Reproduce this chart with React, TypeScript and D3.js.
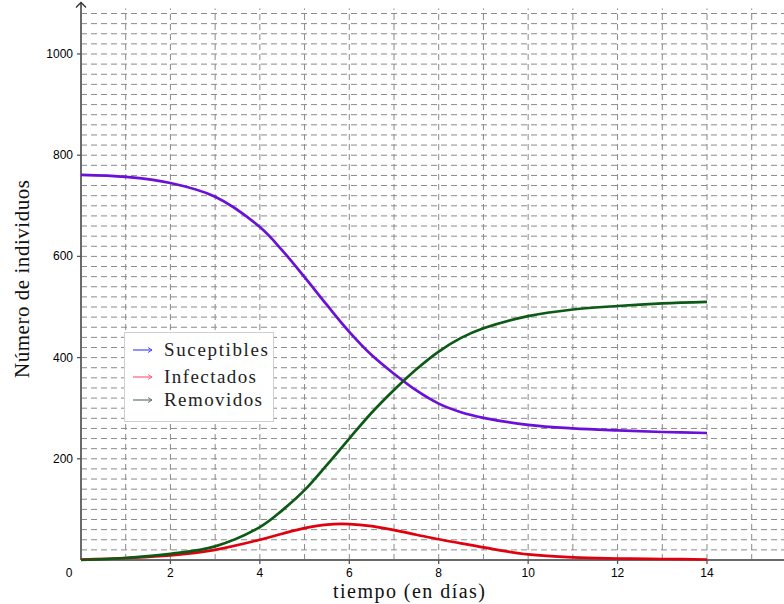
import React from "react";
import * as d3 from "d3";

const tDays = [0, 1, 2, 3, 4, 4.5, 5, 5.5, 6, 6.5, 7, 7.5, 8, 8.5, 9, 10, 11, 12, 13, 14];
const susceptibles = [761, 757, 745, 718, 658, 612, 559, 504, 451, 405, 368, 335, 309, 292, 281, 267, 260, 256, 253, 251];
const infectados = [1, 4, 9, 20, 40, 52, 63, 70, 71, 67, 59, 50, 41, 33, 25, 11, 5, 3, 2, 1];
const removidos = [0, 4, 12, 27, 65, 98, 138, 188, 240, 291, 336, 377, 412, 439, 458, 482, 495, 502, 507, 510];

const xTickLabels = [2, 4, 6, 8, 10, 12, 14];
const yTickLabels = [200, 400, 600, 800, 1000];
const legendLabels = ["Suceptibles", "Infectados", "Removidos"];

const W = 784;
const H = 604;

export default function App() {
  const x = d3.scaleLinear().domain([0, 14]).range([81, 707]);
  const y = d3.scaleLinear().domain([0, 1000]).range([560, 54]);
  const xMax = x.invert(W);
  const vGrid = d3.range(1, Math.floor(xMax) + 1);
  const hGrid = d3.range(20, 1090, 20);
  const topY = y(1090);

  const series = [
    { vals: susceptibles, color: "#6a10d8", legend: "#4a4aff" },
    { vals: infectados, color: "#e0000e", legend: "#ff5f85" },
    { vals: removidos, color: "#0c5a16", legend: "#5f7a5f" },
  ];
  const line = (vals: number[]) =>
    d3
      .line<number>()
      .x((_, i) => x(tDays[i]))
      .y((d) => y(d))
      .curve(d3.curveCatmullRom.alpha(0.5))(vals) || "";

  const serif = "'Liberation Serif', 'DejaVu Serif', serif";
  const sans = "'Liberation Sans', Arial, sans-serif";
  const legendWidths = [104, 92, 98];

  return (
    <svg width={W} height={H} style={{ position: "absolute", left: 0, top: 0, background: "#fff" }}>
      <g stroke="#8a8a8a" strokeWidth={1} strokeDasharray="6,4">
        {hGrid.map((v) => (
          <line key={"h" + v} x1={x(0)} x2={W} y1={y(v)} y2={y(v)} />
        ))}
        {vGrid.map((v) => (
          <line key={"v" + v} x1={x(v)} x2={x(v)} y1={y(0)} y2={topY} />
        ))}
      </g>
      {/* axes */}
      <line x1={x(0)} x2={W} y1={y(0)} y2={y(0)} stroke="#6a6a6a" strokeWidth={2} />
      <line x1={x(0)} x2={x(0)} y1={y(0)} y2={topY - 6} stroke="#6a6a6a" strokeWidth={2} />
      <path
        d={`M${x(0) - 5},${topY - 1} L${x(0)},${topY - 6} L${x(0) + 5},${topY - 1}`}
        fill="none"
        stroke="#333"
        strokeWidth={1.3}
      />
      {xTickLabels.map((v) => (
        <g key={"xt" + v}>
          <line x1={x(v)} x2={x(v)} y1={y(0)} y2={y(0) + 4} stroke="#555" strokeWidth={1.3} />
          <text x={x(v)} y={y(0) + 17} textAnchor="middle" fontFamily={sans} fontSize={12} fill="#000">
            {v}
          </text>
        </g>
      ))}
      <text x={69} y={y(0) + 17} textAnchor="middle" fontFamily={sans} fontSize={12} fill="#000">
        0
      </text>
      {yTickLabels.map((v) => (
        <g key={"yt" + v}>
          <line x1={x(0) - 4} x2={x(0)} y1={y(v)} y2={y(v)} stroke="#555" strokeWidth={1.3} />
          <text x={x(0) - 8} y={y(v) + 4} textAnchor="end" fontFamily={sans} fontSize={12} fill="#000">
            {v}
          </text>
        </g>
      ))}
      {/* curves */}
      {series.map((s, i) => (
        <path key={"s" + i} d={line(s.vals)} fill="none" stroke={s.color} strokeWidth={2.7} />
      ))}
      {/* legend */}
      <rect x={124.5} y={332.5} width={149} height={89} fill="#fff" stroke="#cfcfcf" strokeWidth={1} />
      {legendLabels.map((lab, i) => {
        const cy = [350, 377, 400][i];
        const base = [356, 383, 406][i];
        const c = series[i].legend;
        return (
          <g key={"lg" + i}>
            <line x1={133} x2={152} y1={cy} y2={cy} stroke={c} strokeWidth={1.2} />
            <path d={`M148,${cy - 2.5} L152,${cy} L148,${cy + 2.5}`} fill="none" stroke={c} strokeWidth={1} />
            <text
              x={164}
              y={base}
              fontFamily={serif}
              fontSize={19}
              fill="#222"
              textLength={legendWidths[i]}
              lengthAdjust="spacing"
            >
              {lab}
            </text>
          </g>
        );
      })}
      {/* axis titles */}
      <text x={409} y={598} textAnchor="middle" fontFamily={serif} fontSize={20} fill="#111" textLength={152} lengthAdjust="spacing">
        tiempo (en días)
      </text>
      <text
        transform={`translate(29,279) rotate(-90)`}
        textAnchor="middle"
        fontFamily={serif}
        fontSize={21}
        fill="#111"
        textLength={198}
        lengthAdjust="spacing"
      >
        Número de individuos
      </text>
    </svg>
  );
}
